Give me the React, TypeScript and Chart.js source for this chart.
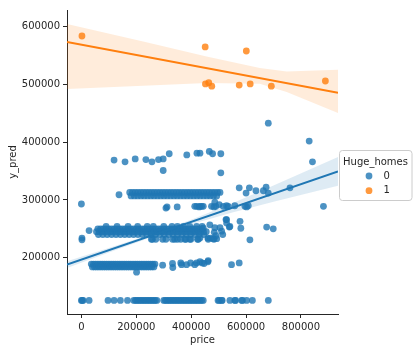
import React, { useEffect, useRef } from 'react';
import { Chart, registerables } from 'chart.js';

Chart.register(...registerables);

// ---- Data (values in thousands) ----
// Blue (Huge_homes = 0): discrete y_pred rows, each row = level + list of prices
const blueRowLevels = [126, 189, 184, 250, 245, 240, 254, 232, 313, 307];
const blueRowPrices = [
  // 126k row
  [0, 3, 6, 28, 97, 119, 142, 168, 191, 197, 203, 209, 215, 221, 227, 233, 239, 245, 251, 257, 263, 269, 275,
    300, 306, 312, 318, 324, 330, 336, 342, 348, 354, 360, 366, 372, 378, 384, 390, 396, 402, 408, 414, 420,
    426, 432, 438, 444, 498, 502, 511, 513, 541, 559, 562, 584, 587, 602, 623, 681],
  // 189k row
  [36, 44, 52, 60, 68, 76, 84, 92, 100, 108, 116, 124, 132, 140, 148, 156, 164, 172, 180, 188, 196, 204, 212,
    220, 228, 236, 244, 252, 260, 268],
  // 184k row
  [40, 48, 56, 64, 72, 80, 88, 96, 104, 112, 120, 128, 136, 144, 152, 160, 168, 176, 184, 192, 200, 208, 216,
    224, 232, 240, 248, 256, 264],
  // 250k row
  [60, 70, 80, 90, 100, 110, 120, 130, 140, 150, 160, 170, 180, 190, 200, 210, 220, 230, 240, 250, 260, 270,
    280, 290, 300, 310, 320, 330, 340, 350, 360, 370, 380, 390, 400, 410, 420, 430, 440],
  // 245k row
  [55, 65, 75, 85, 95, 105, 115, 125, 135, 145, 155, 165, 175, 185, 195, 205, 215, 225, 235, 245, 255, 265,
    275, 285, 295, 305, 315, 325, 335, 345, 355, 365, 375, 385, 395, 405, 415, 425, 435, 445, 455],
  // 240k row
  [62, 78, 94, 110, 126, 142, 158, 174, 190, 206, 222, 238, 254, 270, 286, 302, 318, 334, 350, 366, 382, 398,
    414, 430, 446],
  // 254k fringe
  [90, 130, 170, 205, 240, 262, 300, 330, 350, 372, 395, 420, 440],
  // 232k fringe
  [255, 259, 271, 296, 308, 332, 340, 350, 362, 377, 381, 395, 399, 423, 426, 462, 483],
  // 313k row
  [176, 186, 196, 206, 216, 226, 236, 246, 256, 266, 276, 286, 296, 306, 316, 326, 336, 346, 356, 366, 376,
    386, 396, 406, 416, 426, 436, 446, 456, 466, 476, 486, 496, 505],
  // 307k row
  [181, 193, 205, 217, 229, 241, 253, 265, 277, 289, 301, 313, 325, 337, 349, 361, 373, 385, 397, 409, 421,
    433, 445, 457, 469, 481, 493],
];
// Blue scattered points [price, y_pred]
const blueExtraPoints = [
  [0, 293], [2, 234], [2, 231], [28, 247], [137, 309], [201, 175],
  [296, 187], [332, 190], [333, 183], [362, 191], [365, 188], [383, 188], [398, 191], [413, 188], [420, 191],
  [432, 193], [440, 191], [447, 190], [461, 193], [462, 195], [547, 188], [575, 191],
  [444, 251], [468, 257], [486, 252], [505, 252], [511, 246], [515, 240], [527, 266], [529, 260], [539, 253],
  [578, 263], [581, 251], [614, 231], [675, 253], [699, 250], [461, 234], [470, 234], [480, 233], [493, 233],
  [432, 234], [484, 244], [490, 238],
  [575, 321], [600, 312], [612, 321], [636, 316], [663, 316], [673, 322], [681, 312], [760, 321], [508, 347],
  [308, 286], [312, 288], [349, 288], [413, 289], [420, 289], [429, 288], [438, 289], [432, 289], [444, 289],
  [474, 289], [483, 288], [490, 289], [517, 289], [529, 290], [535, 289], [559, 290], [596, 289], [602, 288],
  [608, 290], [486, 296], [502, 292], [529, 266], [541, 254],
  [119, 369], [159, 366], [196, 371], [235, 370], [257, 366], [281, 370], [298, 371], [320, 380], [298, 351],
  [384, 378], [421, 381], [432, 381], [466, 384], [478, 380], [508, 380], [681, 433], [830, 402], [842, 366],
  [882, 289],
];
// Orange (Huge_homes = 1) points [price, y_pred]
const orangePoints = [
  [2, 584], [451, 565], [601, 558], [452, 501], [464, 503], [475, 497], [575, 499], [615, 501], [692, 497],
  [889, 506],
];

// Regression fits
const blueLineX = [-52.5, 935];
const blueLineY = [188, 349.5];
const blueBandX = [-52.5, 100, 250, 400, 550, 700, 935];
const blueBandUpper = [194, 216.9, 240.4, 265.9, 294.5, 325, 374.5];
const blueBandLower = [182, 208.9, 234.4, 257.9, 278.5, 297, 324.5];

const orangeLineX = [-52.5, 935];
const orangeLineY = [573.5, 485.7];
const orangeBandX = [-52.5, 225, 456, 650, 748, 935];
const orangeBandUpper = [604.7, 574.5, 548.6, 528.5, 522.6, 525.5];
const orangeBandLower = [492.1, 497.8, 502.5, 501.3, 487, 450.6];

const xTickValues = [0, 200000, 400000, 600000, 800000];
const yTickValues = [200000, 300000, 400000, 500000, 600000];
const legendTitle = 'Huge_homes';
const legendLabels = ['0', '1'];

const BLUE = '#1f77b4';
const ORANGE = '#ff7f0e';
const BLUE_PT = 'rgba(31,119,180,0.8)';
const ORANGE_PT = 'rgba(255,127,14,0.8)';
const TEXT = '#262626';
const FONT = 'DejaVu Sans';

const K = 1000;
const pts = (xs: number[], ys: number[]) => xs.map((x, i) => ({ x: x * K, y: ys[i] * K }));

const legendPlugin = {
  id: 'hugeLegend',
  afterDraw(chart: any) {
    const ctx = chart.ctx as CanvasRenderingContext2D;
    ctx.save();
    const x = 339.5, y = 150.5, w = 72.5, h = 50, r = 3;
    ctx.beginPath();
    ctx.moveTo(x + r, y);
    ctx.lineTo(x + w - r, y);
    ctx.arcTo(x + w, y, x + w, y + r, r);
    ctx.lineTo(x + w, y + h - r);
    ctx.arcTo(x + w, y + h, x + w - r, y + h, r);
    ctx.lineTo(x + r, y + h);
    ctx.arcTo(x, y + h, x, y + h - r, r);
    ctx.lineTo(x, y + r);
    ctx.arcTo(x, y, x + r, y, r);
    ctx.closePath();
    ctx.fillStyle = 'rgba(255,255,255,0.8)';
    ctx.fill();
    ctx.strokeStyle = '#cccccc';
    ctx.lineWidth = 1;
    ctx.stroke();
    ctx.fillStyle = TEXT;
    ctx.font = `10px "${FONT}"`;
    ctx.textAlign = 'center';
    ctx.textBaseline = 'middle';
    ctx.fillText(legendTitle, 375.5, 162);
    const colors = [BLUE_PT, ORANGE_PT];
    legendLabels.forEach((lab, i) => {
      const cy = 176 + i * 14.7;
      ctx.beginPath();
      ctx.arc(369, cy, 3.4, 0, Math.PI * 2);
      ctx.fillStyle = colors[i];
      ctx.fill();
      ctx.fillStyle = TEXT;
      ctx.textAlign = 'left';
      ctx.fillText(lab, 383.5, cy);
    });
    ctx.restore();
  },
};

export default function App() {
  const ref = useRef<HTMLCanvasElement | null>(null);
  useEffect(() => {
    if (!ref.current) return;
    const bluePoints: { x: number; y: number }[] = [];
    blueRowPrices.forEach((xs, i) => xs.forEach((x) => bluePoints.push({ x: x * K, y: blueRowLevels[i] * K })));
    blueExtraPoints.forEach(([x, y]) => bluePoints.push({ x: x * K, y: y * K }));
    const orangeData = orangePoints.map(([x, y]) => ({ x: x * K, y: y * K }));

    const lineCommon = { pointRadius: 0, tension: 0, borderWidth: 0 };
    const tickFont = { family: FONT, size: 10 };
    const chart = new Chart(ref.current, {
      type: 'scatter',
      data: {
        datasets: [
          { type: 'scatter', data: bluePoints, backgroundColor: BLUE_PT, borderWidth: 0, pointRadius: 3.4, order: 6 },
          { type: 'line', data: pts(blueBandX, blueBandLower), ...lineCommon, fill: false, order: 5 },
          { type: 'line', data: pts(blueBandX, blueBandUpper), ...lineCommon, fill: '-1', backgroundColor: 'rgba(31,119,180,0.15)', order: 5 },
          { type: 'line', data: pts(blueLineX, blueLineY), pointRadius: 0, borderColor: BLUE, borderWidth: 2, fill: false, order: 4 },
          { type: 'scatter', data: orangeData, backgroundColor: ORANGE_PT, borderWidth: 0, pointRadius: 3.4, order: 3 },
          { type: 'line', data: pts(orangeBandX, orangeBandLower), ...lineCommon, fill: false, order: 2 },
          { type: 'line', data: pts(orangeBandX, orangeBandUpper), ...lineCommon, fill: '-1', backgroundColor: 'rgba(255,127,14,0.15)', order: 2 },
          { type: 'line', data: pts(orangeLineX, orangeLineY), pointRadius: 0, borderColor: ORANGE, borderWidth: 2, fill: false, order: 1 },
        ] as any,
      },
      options: {
        animation: false,
        responsive: true,
        maintainAspectRatio: false,
        layout: { padding: { top: 10, right: 79, left: 0, bottom: 0 } },
        plugins: { legend: { display: false }, tooltip: { enabled: false } },
        events: [],
        scales: {
          x: {
            type: 'linear',
            min: -52500,
            max: 935000,
            afterBuildTicks: (s: any) => { s.ticks = xTickValues.map((v) => ({ value: v })); },
            ticks: {
              maxRotation: 0,
              autoSkip: false,
              padding: 3,
              color: TEXT,
              font: tickFont,
              callback: (v: any) => String(v),
            },
            grid: { drawOnChartArea: false, drawTicks: true, tickLength: 4, tickColor: TEXT, tickWidth: 1 },
            border: { display: true, color: TEXT, width: 1 },
            title: { display: true, text: 'price', color: TEXT, font: tickFont, padding: { top: 0, bottom: 6 } },
            afterFit: (s: any) => { s.height = 38; },
          },
          y: {
            type: 'linear',
            min: 102500,
            max: 629000,
            afterBuildTicks: (s: any) => { s.ticks = yTickValues.map((v) => ({ value: v })); },
            ticks: {
              autoSkip: false,
              padding: 3,
              color: TEXT,
              font: tickFont,
              callback: (v: any) => String(v),
            },
            grid: { drawOnChartArea: false, drawTicks: true, tickLength: 4, tickColor: TEXT, tickWidth: 1 },
            border: { display: true, color: TEXT, width: 1 },
            title: { display: true, text: 'y_pred', color: TEXT, font: tickFont, padding: { top: 7, bottom: 0 } },
            afterFit: (s: any) => { s.width = 67; },
          },
        },
      } as any,
      plugins: [legendPlugin],
    });
    return () => chart.destroy();
  }, []);

  return (
    <div style={{ position: 'absolute', left: 0, top: 0, width: 417, height: 352 }}>
      <canvas ref={ref} />
    </div>
  );
}
